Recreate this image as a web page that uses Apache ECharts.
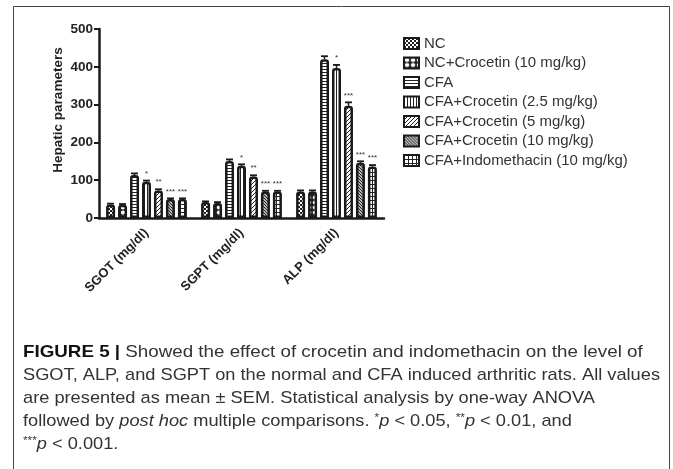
<!DOCTYPE html>
<html>
<head>
<meta charset="utf-8">
<script src="https://cdn.jsdelivr.net/npm/echarts@6/dist/echarts.min.js"></script>
<style>
  html, body { margin: 0; padding: 0; background: #fff; }
  #main { width: 673px; height: 469px; }
</style>
</head>
<body>
<div id="main"></div>
<script>
// categories on the x axis
var categories = ['SGOT (mg/dl)', 'SGPT (mg/dl)', 'ALP (mg/dl)'];
var groups = ['NC', 'NC+Crocetin (10 mg/kg)', 'CFA', 'CFA+Crocetin (2.5 mg/kg)',
  'CFA+Crocetin (5 mg/kg)', 'CFA+Crocetin (10 mg/kg)', 'CFA+Indomethacin (10 mg/kg)'];

// means per group: [SGOT, SGPT, ALP]
var ncVals     = [36, 42, 70];
var ncCrocVals = [35, 40, 70];
var cfaVals    = [114, 151, 420];
var croc25Vals = [96, 138, 397];
var croc5Vals  = [73, 110, 297];
var croc10Vals = [50, 70, 146];
var indoVals   = [50, 70, 136];

// SEM per group
var ncErr     = [2, 2, 3];
var ncCrocErr = [2, 2, 3];
var cfaErr    = [4, 4, 8];
var croc25Err = [3, 4, 8];
var croc5Err  = [3, 3, 9];
var croc10Err = [2, 2, 4];
var indoErr   = [2, 2, 4];

// significance marks
var ncSig     = ['', '', ''];
var ncCrocSig = ['', '', ''];
var cfaSig    = ['', '', ''];
var croc25Sig = ['*', '*', '*'];
var croc5Sig  = ['**', '**', '***'];
var croc10Sig = ['***', '***', '***'];
var indoSig   = ['***', '***', '***'];

var yMin = 0, yMax = 500, yStep = 100;

var allVals = [ncVals, ncCrocVals, cfaVals, croc25Vals, croc5Vals, croc10Vals, indoVals];
var allErr = [ncErr, ncCrocErr, cfaErr, croc25Err, croc5Err, croc10Err, indoErr];
var allSig = [ncSig, ncCrocSig, cfaSig, croc25Sig, croc5Sig, croc10Sig, indoSig];

// fill patterns
function tile(w, h, draw) {
  var c = document.createElement('canvas');
  c.width = w; c.height = h;
  var ctx = c.getContext('2d');
  ctx.fillStyle = '#fff';
  ctx.fillRect(0, 0, w, h);
  ctx.fillStyle = '#222';
  ctx.strokeStyle = '#222';
  draw(ctx);
  return { image: c, repeat: 'repeat' };
}
var patterns = [
  tile(4, 4, function (ctx) { ctx.fillRect(0, 0, 2, 2); ctx.fillRect(2, 2, 2, 2); }),
  tile(6, 5, function (ctx) {
    ctx.fillRect(0, 0, 6, 5);
    ctx.fillStyle = '#fff';
    ctx.beginPath(); ctx.ellipse(3, 2.5, 2.2, 1.9, 0, 0, Math.PI * 2); ctx.fill();
  }),
  tile(3, 3, function (ctx) { ctx.fillRect(0, 0, 3, 1); }),
  tile(3, 3, function (ctx) { ctx.fillRect(0, 0, 1, 3); }),
  tile(4, 4, function (ctx) {
    ctx.lineWidth = 1;
    ctx.beginPath(); ctx.moveTo(-1, 5); ctx.lineTo(5, -1); ctx.stroke();
    ctx.beginPath(); ctx.moveTo(-1, 1); ctx.lineTo(1, -1); ctx.stroke();
    ctx.beginPath(); ctx.moveTo(3, 5); ctx.lineTo(5, 3); ctx.stroke();
  }),
  tile(3, 3, function (ctx) {
    ctx.lineWidth = 1.2;
    ctx.beginPath(); ctx.moveTo(-1, -1); ctx.lineTo(4, 4); ctx.stroke();
    ctx.beginPath(); ctx.moveTo(2, -1); ctx.lineTo(4, 1); ctx.stroke();
    ctx.beginPath(); ctx.moveTo(-1, 2); ctx.lineTo(1, 4); ctx.stroke();
  }),
  tile(4, 4, function (ctx) { ctx.fillRect(0, 0, 4, 1); ctx.fillRect(0, 0, 1, 4); })
];

var barW = 9, barPitch = 12;

var series = groups.map(function (name, g) {
  return {
    name: name,
    type: 'bar',
    barWidth: barW,
    barGap: '33%',
    data: allVals[g],
    itemStyle: { color: patterns[g], borderColor: '#1a1a1a', borderWidth: 2.5, borderRadius: [2, 2, 0, 0] },
    emphasis: { disabled: true }
  };
});

// error bars and significance marks
var errData = [], errSig = [];
groups.forEach(function (name, g) {
  categories.forEach(function (cat, c) {
    errData.push([c, g, allVals[g][c], allErr[g][c]]);
    errSig.push(allSig[g][c]);
  });
});
series.push({
  type: 'custom',
  data: errData,
  z: 5,
  renderItem: function (params, api) {
    var c = api.value(0), g = api.value(1), v = api.value(2), e = api.value(3);
    var base = api.coord([c, v]);
    var top = api.coord([c, v + e]);
    var x = base[0] + (g - (groups.length - 1) / 2) * barPitch;
    var children = [
      { type: 'line', shape: { x1: x, y1: base[1], x2: x, y2: top[1] }, style: { stroke: '#1a1a1a', lineWidth: 1.5 } },
      { type: 'line', shape: { x1: x - 3.5, y1: top[1], x2: x + 3.5, y2: top[1] }, style: { stroke: '#1a1a1a', lineWidth: 1.8 } }
    ];
    var s = errSig[params.dataIndex];
    if (s) {
      children.push({
        type: 'text', x: x, y: top[1] - 3,
        style: { text: s, fill: '#333', font: '8px Liberation Sans, Arial', align: 'center', verticalAlign: 'bottom' }
      });
    }
    return { type: 'group', children: children };
  }
});

// caption
var capFont = 'Liberation Sans, Arial';
var capSize = 17;
var meas = document.createElement('canvas').getContext('2d');
meas.font = capSize + 'px ' + capFont;
var capScale = 637 / meas.measureText('SGOT, ALP, and SGPT on the normal and CFA induced arthritic rats. All values').width;
var capLines = [
  '{b|FIGURE 5 |} Showed the effect of crocetin and indomethacin on the level of',
  'SGOT, ALP, and SGPT on the normal and CFA induced arthritic rats. All values',
  'are presented as mean \u00b1 SEM. Statistical analysis by one-way ANOVA',
  'followed by {i|post hoc} multiple comparisons. {s|*}{i|p} < 0.05, {s|**}{i|p} < 0.01, and',
  '{s|***}{i|p} < 0.001.'
];
var capGraphics = capLines.map(function (t, k) {
  return {
    type: 'text', x: 23, y: 352 + k * 23, scaleX: k === 0 ? capScale * 1.03 : capScale,
    style: {
      text: t, fill: '#333', fontFamily: capFont, fontSize: capSize, verticalAlign: 'middle',
      rich: {
        b: { fontWeight: 'bold', fill: '#111', fontFamily: capFont, fontSize: capSize },
        i: { fontStyle: 'italic', fill: '#333', fontFamily: capFont, fontSize: capSize },
        s: { fontSize: 11, fill: '#333', fontFamily: capFont, padding: [0, 0, 7, 0] }
      }
    }
  };
});

var frame = [
  { type: 'polyline', shape: { points: [[13.5, 469], [13.5, 6.5], [669.5, 6.5], [669.5, 469]] }, style: { stroke: '#444', lineWidth: 1, fill: null } }
];

var chart = echarts.init(document.getElementById('main'), null, { renderer: 'canvas' });
chart.setOption({
  animation: false,
  backgroundColor: '#fff',
  textStyle: { fontFamily: 'Liberation Sans, Arial' },
  grid: { left: 99, top: 29, width: 285, height: 189, outerBoundsMode: 'none' },
  legend: {
    data: groups,
    orient: 'vertical',
    left: 398,
    top: 31,
    itemWidth: 15,
    itemHeight: 11,
    itemGap: 4.5,
    selectedMode: false,
    icon: 'rect',
    itemStyle: { borderColor: '#1a1a1a', borderWidth: 2 },
    textStyle: { fontSize: 15, color: '#333', fontFamily: 'Liberation Sans, Arial' }
  },
  xAxis: {
    type: 'category',
    data: categories,
    axisLine: { lineStyle: { color: '#1a1a1a', width: 2.5 } },
    axisTick: { alignWithLabel: true, length: 5, lineStyle: { color: '#1a1a1a', width: 2 } },
    axisLabel: { rotate: 45, margin: 13, fontSize: 13, fontWeight: 'bold', color: '#222', interval: 0 }
  },
  yAxis: {
    type: 'value',
    min: yMin, max: yMax, interval: yStep,
    name: 'Hepatic parameters',
    nameLocation: 'middle',
    nameGap: 34,
    nameTextStyle: { fontSize: 13.5, fontWeight: 'bold', color: '#222', padding: [0, 0, 0, 27] },
    splitLine: { show: false },
    axisLine: { show: true, lineStyle: { color: '#1a1a1a', width: 2.5 } },
    axisTick: { show: true, length: 5, lineStyle: { color: '#1a1a1a', width: 2 } },
    axisLabel: { margin: 6, fontSize: 13.5, fontWeight: 'bold', color: '#222' }
  },
  graphic: frame.concat(capGraphics),
  series: series
});
</script>
</body>
</html>
